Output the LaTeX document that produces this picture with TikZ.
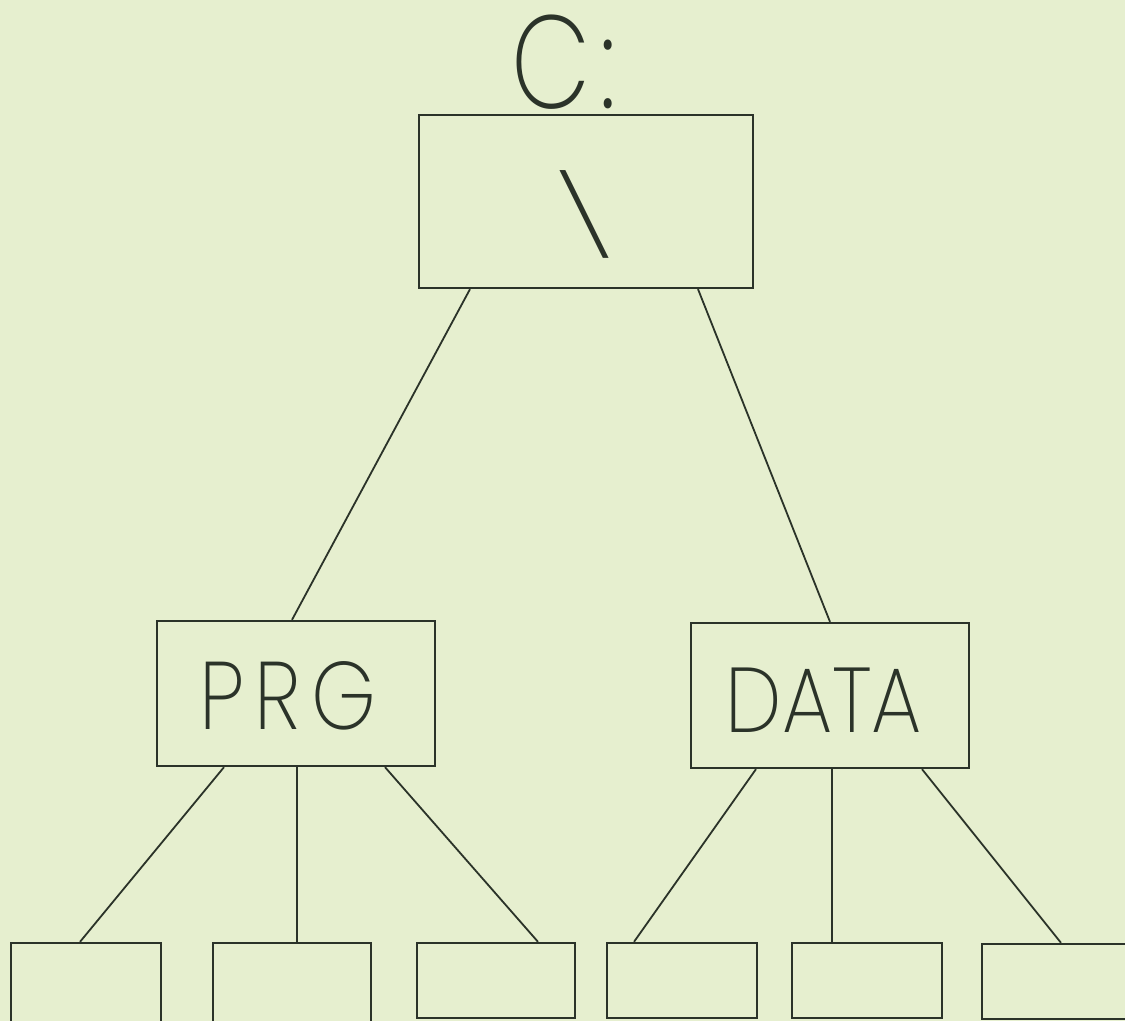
\documentclass[tikz,border=0pt]{standalone}
\usepackage{fontspec}
\usetikzlibrary{calc}
\newfontfamily\handfont{Poppins ExtraLight}
\definecolor{paper}{HTML}{E6EFCF}
\definecolor{ink}{HTML}{2B3329}
\tikzset{
  box/.style={draw=ink, line width=1.15pt, rectangle, inner sep=0pt},
  link/.style={draw=ink, line width=0.9pt},
  lbl/.style={text=ink, inner sep=0pt, font=\handfont}
}
\begin{document}
\begin{tikzpicture}[x=0.5pt, y=-0.5pt]
\useasboundingbox (0,0) rectangle (1125,1021);
\fill[paper] (0,0) rectangle (1125,1021);
\clip (0,0) rectangle (1125,1021);
% boxes
\node[box, minimum width=167pt, minimum height=86.5pt] (root) at (586,201.5) {};
\node[box, minimum width=139pt, minimum height=72.5pt] (prg) at (296,693.5) {};
\node[box, minimum width=139pt, minimum height=72.5pt] (data) at (830,695.5) {};
\node[box, minimum width=75pt, minimum height=45pt] (b1) at (86,988) {};
\node[box, minimum width=79pt, minimum height=45pt] (b2) at (292,988) {};
\node[box, minimum width=79pt, minimum height=37.5pt] (b3) at (496,980.5) {};
\node[box, minimum width=75pt, minimum height=37.5pt] (b4) at (682,980.5) {};
\node[box, minimum width=75pt, minimum height=37.5pt] (b5) at (867,980.5) {};
\node[box, minimum width=77pt, minimum height=37.5pt] (b6) at (1059,981.5) {};
% labels
\node[lbl, font=\handfont\fontsize{66}{66}\selectfont, xscale=0.78] (drive) at (564,62) {C\hspace{6pt}:};
\node[lbl, font=\handfont\fontsize{40}{40}\selectfont, xscale=1.6] (slash) at (585.5,214.5) {\textbackslash};
\node[lbl, font=\handfont\fontsize{48}{48}\selectfont, xscale=0.86] (prgt) at (288,696) {P\hspace{6pt}R\hspace{6pt}G};
\node[lbl, font=\handfont\fontsize{46}{46}\selectfont, xscale=0.87] (datat) at (824,700) {DATA};
% connectors
\draw[link] ($(root.south)+(-116,0)$) -- ($(prg.north)+(-4,0)$);
\draw[link] ($(root.south)+(112,0)$) -- ($(data.north)+(0,0)$);
\draw[link] ($(prg.south)+(-72,0)$) -- ($(b1.north)+(-6,0)$);
\draw[link] ($(prg.south)+(1,0)$) -- ($(b2.north)+(5,0)$);
\draw[link] ($(prg.south)+(89,0)$) -- ($(b3.north)+(42,0)$);
\draw[link] ($(data.south)+(-74,0)$) -- ($(b4.north)+(-48,0)$);
\draw[link] ($(data.south)+(2,0)$) -- ($(b5.north)+(-35,0)$);
\draw[link] ($(data.south)+(92,0)$) -- ($(b6.north)+(2,0)$);
\end{tikzpicture}
\end{document}
